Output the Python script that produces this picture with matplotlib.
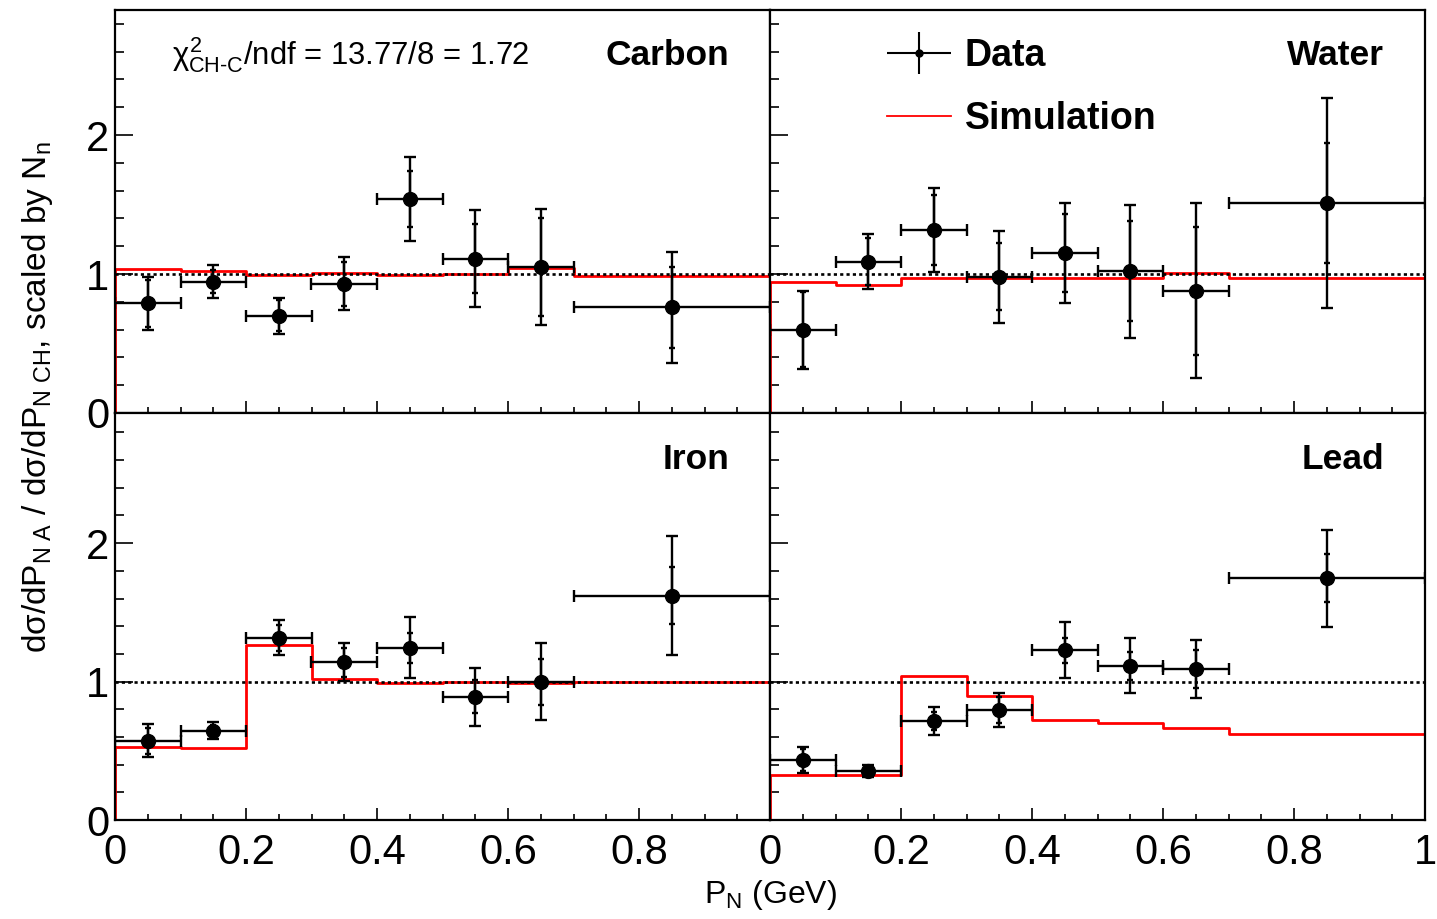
import numpy as np
import matplotlib.pyplot as plt
from matplotlib.ticker import MultipleLocator
from matplotlib.lines import Line2D
from matplotlib.legend_handler import HandlerErrorbar

plt.rcParams['font.family'] = ['Liberation Sans', 'DejaVu Sans']
plt.rcParams['mathtext.fontset'] = 'custom'
plt.rcParams['mathtext.rm'] = 'Liberation Sans'
plt.rcParams['mathtext.it'] = 'Liberation Sans'
plt.rcParams['mathtext.bf'] = 'Liberation Sans:bold'

# bin edges in P_N (GeV)
edges = [0.0, 0.1, 0.2, 0.3, 0.4, 0.5, 0.6, 0.7, 1.0]

# ratio values, total error, stat error, simulation (last sim value = overflow edge)
carbon_data = [0.79, 0.945, 0.70, 0.93, 1.54, 1.11, 1.05, 0.76]
carbon_tot = [0.19, 0.12, 0.13, 0.19, 0.30, 0.35, 0.42, 0.40]
carbon_stat = [0.17, 0.085, 0.11, 0.16, 0.20, 0.25, 0.35, 0.29]
carbon_sim = [1.035, 1.025, 0.99, 1.01, 0.99, 1.0, 1.04, 0.985, 0.985]

water_data = [0.60, 1.09, 1.317, 0.98, 1.15, 1.02, 0.88, 1.51]
water_tot = [0.28, 0.195, 0.30, 0.33, 0.36, 0.48, 0.63, 0.755]
water_stat = [0.27, 0.17, 0.25, 0.24, 0.28, 0.36, 0.46, 0.43]
water_sim = [0.945, 0.92, 0.97, 0.97, 0.973, 0.97, 1.01, 0.973, 1.04]

iron_data = [0.573, 0.645, 1.316, 1.139, 1.244, 0.89, 0.999, 1.62]
iron_tot = [0.118, 0.06, 0.127, 0.138, 0.22, 0.21, 0.28, 0.43]
iron_stat = [0.095, 0.04, 0.095, 0.105, 0.11, 0.12, 0.167, 0.205]
iron_sim = [0.53, 0.522, 1.264, 1.016, 0.987, 0.995, 0.988, 0.999, 1.114]

lead_data = [0.433, 0.354, 0.715, 0.794, 1.227, 1.114, 1.09, 1.745]
lead_tot = [0.097, 0.043, 0.098, 0.125, 0.20, 0.20, 0.21, 0.35]
lead_stat = [0.08, 0.035, 0.065, 0.095, 0.09, 0.10, 0.14, 0.173]
lead_sim = [0.323, 0.323, 1.04, 0.895, 0.725, 0.703, 0.662, 0.619, 0.53]

names = ['Carbon', 'Water', 'Iron', 'Lead']
datas = [carbon_data, water_data, iron_data, lead_data]
tots = [carbon_tot, water_tot, iron_tot, lead_tot]
stats = [carbon_stat, water_stat, iron_stat, lead_stat]
sims = [carbon_sim, water_sim, iron_sim, lead_sim]

edges = np.array(edges)
centers = (edges[:-1] + edges[1:]) / 2
halfw = (edges[1:] - edges[:-1]) / 2

fig = plt.figure(figsize=(14.37, 9.19), dpi=100)
W = 655 / 1437
xs = [115 / 1437, 770 / 1437]
rows = [((919 - 413) / 919, 403 / 919, 2.9), ((919 - 820) / 919, 407 / 919, 2.94)]

axes = []
for i in range(4):
    r, c = divmod(i, 2)
    y0, h, ytop = rows[r]
    ax = fig.add_axes([xs[c], y0, W, h])
    axes.append(ax)
    sim = sims[i]
    ax.step(np.r_[0, edges], np.r_[0, sim], where='post',
            color='red', lw=2.0, zorder=2)
    ax.axhline(1, color='black', ls=(0, (1.2, 1.2)), lw=1.9, zorder=3)
    ax.errorbar(centers, datas[i], xerr=halfw, yerr=tots[i], fmt='o',
                color='black', ms=10, lw=1.7, capsize=4, capthick=1.7,
                zorder=4)
    ax.errorbar(centers, datas[i], yerr=stats[i], fmt='none', ecolor='black',
                lw=1.7, capsize=2.5, capthick=1.7, zorder=4)
    ax.set_xlim(0, 1)
    ax.set_ylim(0, ytop)
    ax.set_xticks(np.arange(0, 1.01, 0.2))
    if c == 0:
        ax.set_xticklabels(['0', '0.2', '0.4', '0.6', '0.8', ''])
    else:
        ax.set_xticklabels(['0', '0.2', '0.4', '0.6', '0.8', '1'])
    ax.xaxis.set_minor_locator(MultipleLocator(0.05))
    ax.set_yticks([0, 1, 2])
    ax.set_yticklabels(['0', '1', '2'])
    ax.yaxis.set_minor_locator(MultipleLocator(0.2))
    ax.tick_params(axis='x', which='major', direction='in', length=9, width=1.2,
                   labelsize=30, pad=9, top=False)
    ax.tick_params(axis='x', which='minor', direction='in', length=4.5, width=1.2,
                   top=False)
    ax.tick_params(axis='y', which='major', direction='in', length=13, width=1.2,
                   labelsize=30, pad=4, right=False)
    ax.tick_params(axis='y', which='minor', direction='in', length=6.5, width=1.2,
                   right=False)
    if r == 0:
        ax.tick_params(axis='x', labelbottom=False)
    if c == 1:
        ax.tick_params(axis='y', labelleft=False)
    for s in ax.spines.values():
        s.set_linewidth(1.6)
    ax.text(0.938, 0.888 if r == 0 else 0.885, names[i], transform=ax.transAxes,
            ha='right', va='center', fontsize=25.5, fontweight='bold')

# legend in the Water panel
leg_data = axes[1].errorbar([np.nan], [np.nan], xerr=[0.1], yerr=[0.1], fmt='o',
                            color='black', ms=5, lw=1.5, capsize=0)
leg_sim = Line2D([], [], color='red', lw=1.3)
axes[1].legend([leg_data, leg_sim], ['Data', 'Simulation'], loc='upper left',
               bbox_to_anchor=(0.1786, 0.93), frameon=False, numpoints=1,
               prop={'weight': 'bold', 'size': 27}, handlelength=1.71,
               handletextpad=0.37, labelspacing=0.71, borderpad=0,
               borderaxespad=0,
               handler_map={leg_data: HandlerErrorbar(xerr_size=0.855, yerr_size=0.55)})

axes[0].text(0.087, 0.888, r'$\chi^{2}_{\mathrm{CH}\text{-}\mathrm{C}}$/ndf = 13.77/8 = 1.72',
             transform=axes[0].transAxes, ha='left', va='center', fontsize=22.3)

fig.text(0.026, 0.568,
         r'd$\sigma$/dP$_{\mathrm{N\ A}}$ / d$\sigma$/dP$_{\mathrm{N\ CH}}$, scaled by N$_{\mathrm{n}}$',
         rotation=90, ha='center', va='center', fontsize=24)
fig.text(770 / 1437, 0.026, r'P$_{\mathrm{N}}$ (GeV)', ha='center', va='center',
         fontsize=23)

fig.savefig('out.png', dpi=100)
